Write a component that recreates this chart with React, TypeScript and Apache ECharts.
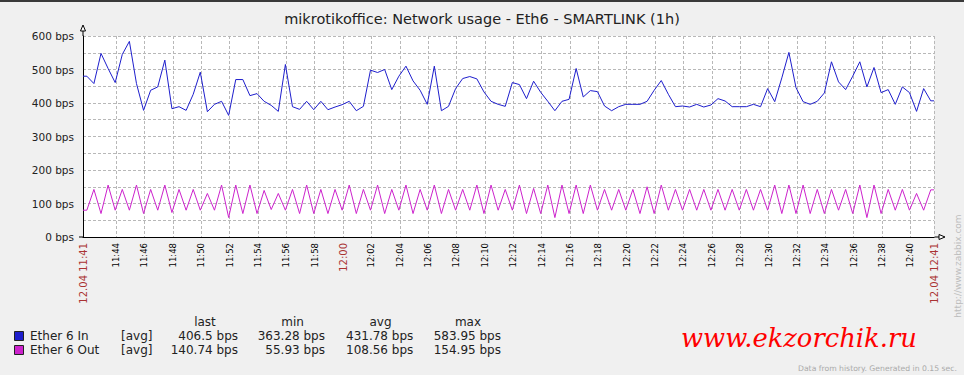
import React, { useEffect, useRef } from 'react';
import * as echarts from 'echarts';

const TITLE = 'mikrotikoffice: Network usage - Eth6 - SMARTLINK (1h)';

// 30-second samples, bps
const inValues = [
  480, 458, 548, 503, 461, 545, 584, 458, 378, 438,
  448, 528, 383, 389, 378, 426, 492, 374, 396, 405,
  363, 470, 470, 422, 428, 405, 393, 375, 515, 389,
  381, 405, 380, 405, 380, 388, 395, 405, 377, 390,
  498, 491, 500, 440, 480, 510, 466, 438, 396, 510,
  377, 390, 443, 473, 479, 472, 433, 405, 396, 390,
  461, 455, 413, 465, 432, 405, 377, 405, 411, 503,
  418, 437, 434, 391, 377, 389, 396, 396, 396, 405,
  438, 467, 426, 389, 391, 388, 396, 388, 394, 413,
  406, 389, 389, 389, 396, 389, 443, 404, 475, 551,
  446, 404, 396, 405, 430, 523, 463, 440, 480, 523,
  448, 506, 431, 440, 396, 448, 431, 375, 443, 406.5,
];

const outValues = [
  80, 142, 70, 155, 80, 142, 80, 155, 70, 142,
  80, 155, 73, 142, 80, 142, 80, 130, 80, 155,
  58, 155, 70, 155, 70, 139, 82, 130, 80, 142,
  70, 155, 70, 142, 70, 142, 80, 155, 70, 142,
  80, 155, 70, 142, 80, 155, 70, 142, 80, 155,
  70, 142, 80, 142, 80, 155, 70, 155, 80, 142,
  80, 155, 70, 145, 70, 155, 58, 155, 70, 155,
  70, 155, 80, 142, 80, 142, 80, 142, 70, 150,
  70, 155, 80, 142, 80, 142, 80, 142, 80, 142,
  80, 142, 80, 142, 80, 142, 80, 155, 70, 155,
  70, 155, 70, 142, 70, 142, 80, 142, 70, 155,
  58, 155, 70, 142, 80, 142, 80, 130, 80, 140.74,
];

const yTickValues = [0, 50, 100, 150, 200, 250, 300, 350, 400, 450, 500, 550, 600];
const xTickMinutes = [44, 46, 48, 50, 52, 54, 56, 58, 60, 62, 64, 66, 68, 70, 72, 74, 76, 78, 80, 82, 84, 86, 88, 90, 92, 94, 96, 98, 100];
const DATE_LABEL = '12.04';

const legendNames = ['Ether 6 In', 'Ether 6 Out'];
const legendColors = ['#1e1ecc', '#cc22cc'];
const legendHeaders = ['last', 'min', 'avg', 'max'];
const lastVals = ['406.5 bps', '140.74 bps'];
const minVals = ['363.28 bps', '55.93 bps'];
const avgVals = ['431.78 bps', '108.56 bps'];
const maxVals = ['583.95 bps', '154.95 bps'];

// time axis in minutes past 11:00
const XMIN = 41 + 40 / 60;
const XMAX = XMIN + 60;
const SAMPLE_START = XMIN + 0.27;
const SAMPLE_STEP = 0.5;

const FONT = 'DejaVu Sans';

function hhmm(m: number) {
  const total = Math.floor(m + 1e-6);
  const h = 11 + Math.floor(total / 60);
  const mm = total % 60;
  return `${h}:${mm < 10 ? '0' + mm : mm}`;
}

function buildSeries(values: number[]) {
  const pts: number[][] = values.map((v, k) => [SAMPLE_START + k * SAMPLE_STEP, v]);
  return [[XMIN, values[0]], ...pts, [XMAX, values[values.length - 1]]];
}

export default function App() {
  const ref = useRef<HTMLDivElement>(null);
  useEffect(() => {
    if (!ref.current) return;
    const chart = echarts.init(ref.current, null, { renderer: 'svg' });
    const tickVals = [XMIN, ...xTickMinutes, XMAX];

    const colX = [238, 325, 413.3, 501];
    const headX = [205, 292.5, 380.5, 468];
    const rowY = [336, 350];
    const LF = `12px "${FONT}"`;
    const graphics: any[] = [
      { type: 'rect', shape: { x: 0, y: 0, width: 964, height: 2 }, style: { fill: '#3a3a3a' }, silent: true },
      {
        type: 'text', x: 482, y: 19,
        style: { text: TITLE, font: `14.5px "${FONT}"`, fill: '#222', align: 'center', verticalAlign: 'middle' },
      },
      // axis extensions and arrows
      { type: 'line', shape: { x1: 83, y1: 31, x2: 83, y2: 36 }, style: { stroke: '#000', lineWidth: 1 } },
      { type: 'polygon', shape: { points: [[80.5, 31], [83, 25], [85.5, 31]] }, style: { fill: '#fff', stroke: '#000', lineWidth: 1 } },
      { type: 'line', shape: { x1: 934, y1: 237, x2: 939, y2: 237 }, style: { stroke: '#000', lineWidth: 1 } },
      { type: 'polygon', shape: { points: [[939, 234.5], [945, 237], [939, 239.5]] }, style: { fill: '#fff', stroke: '#000', lineWidth: 1 } },
      { type: 'line', shape: { x1: 79, y1: 237, x2: 83, y2: 237 }, style: { stroke: '#000', lineWidth: 1 } },
    ];
    legendHeaders.forEach((h, i) => {
      graphics.push({ type: 'text', x: headX[i], y: 322, style: { text: h, font: LF, fill: '#222', align: 'center', verticalAlign: 'middle' } });
    });
    const cols = [lastVals, minVals, avgVals, maxVals];
    legendNames.forEach((name, r) => {
      graphics.push({ type: 'rect', shape: { x: 14.5, y: rowY[r] - 4.5, width: 9, height: 9 }, style: { fill: legendColors[r], stroke: '#222', lineWidth: 1 } });
      graphics.push({ type: 'text', x: 30, y: rowY[r], style: { text: name, font: LF, fill: '#222', align: 'left', verticalAlign: 'middle' } });
      graphics.push({ type: 'text', x: 121, y: rowY[r], style: { text: '[avg]', font: LF, fill: '#222', align: 'left', verticalAlign: 'middle' } });
      cols.forEach((c, i) => {
        graphics.push({ type: 'text', x: colX[i], y: rowY[r], style: { text: c[r], font: LF, fill: '#222', align: 'right', verticalAlign: 'middle' } });
      });
    });
    graphics.push({
      type: 'text', x: 681, y: 338,
      style: { text: 'www.ekzorchik.ru', font: `italic 25.8px "DejaVu Serif"`, fill: '#ff0000', align: 'left', verticalAlign: 'middle' },
    });
    graphics.push({
      type: 'text', x: 957, y: 368,
      style: { text: 'Data from history. Generated in 0.15 sec.', font: `7.7px "${FONT}"`, fill: '#aaaaaa', align: 'right', verticalAlign: 'middle' },
    });
    graphics.push({
      type: 'text', x: 958, y: 266, rotation: Math.PI / 2,
      style: { text: 'http://www.zabbix.com', font: `9px "${FONT}"`, fill: '#bdbdbd', align: 'center', verticalAlign: 'middle' },
    });

    chart.setOption({
      animation: false,
      backgroundColor: '#f0f0f0',
      textStyle: { fontFamily: FONT },
      grid: { left: 83, top: 36, width: 851, height: 201, show: true, backgroundColor: '#ffffff', borderWidth: 0 },
      xAxis: {
        type: 'value', min: XMIN, max: XMAX,
        axisLine: { show: true, onZero: false, lineStyle: { color: '#000', width: 1 } },
        axisTick: { show: false, customValues: tickVals },
        axisLabel: {
          customValues: tickVals,
          rotate: 90,
          margin: 6,
          formatter: (v: number) => {
            if (Math.abs(v - XMIN) < 1e-6) return `{r|${DATE_LABEL} ${hhmm(v)}}`;
            if (Math.abs(v - XMAX) < 1e-6) return `{r|${DATE_LABEL} ${hhmm(v)}}`;
            if (Math.abs(v - 60) < 1e-6) return `{r|${hhmm(v)}}`;
            return `{b|${hhmm(v)}}`;
          },
          rich: {
            r: { color: '#aa3333', fontSize: 10, fontFamily: FONT },
            b: { color: '#000', fontSize: 8.5, fontFamily: FONT },
          },
        },
        splitLine: { show: true, lineStyle: { type: [3, 2], color: '#b8b8b8', width: 1 } },
      },
      yAxis: {
        type: 'value', min: yTickValues[0], max: yTickValues[yTickValues.length - 1], interval: 50,
        axisLine: { show: true, lineStyle: { color: '#000', width: 1 } },
        axisTick: { show: false },
        axisLabel: {
          color: '#222', fontSize: 10.5, margin: 9, fontFamily: FONT,
          formatter: (v: number) => (v % 100 === 0 ? `${v} bps` : ''),
        },
        splitLine: { show: true, lineStyle: { type: [3, 2], color: '#b8b8b8', width: 1 } },
      },
      series: [
        {
          name: legendNames[1], type: 'line', data: buildSeries(outValues), showSymbol: false, silent: true,
          lineStyle: { color: legendColors[1], width: 1 }, itemStyle: { color: legendColors[1] },
        },
        {
          name: legendNames[0], type: 'line', data: buildSeries(inValues), showSymbol: false, silent: true,
          lineStyle: { color: legendColors[0], width: 1 }, itemStyle: { color: legendColors[0] },
        },
      ],
      graphic: graphics,
    });
    return () => chart.dispose();
  }, []);
  return <div ref={ref} style={{ position: 'absolute', left: 0, top: 0, width: 964, height: 375 }} />;
}
